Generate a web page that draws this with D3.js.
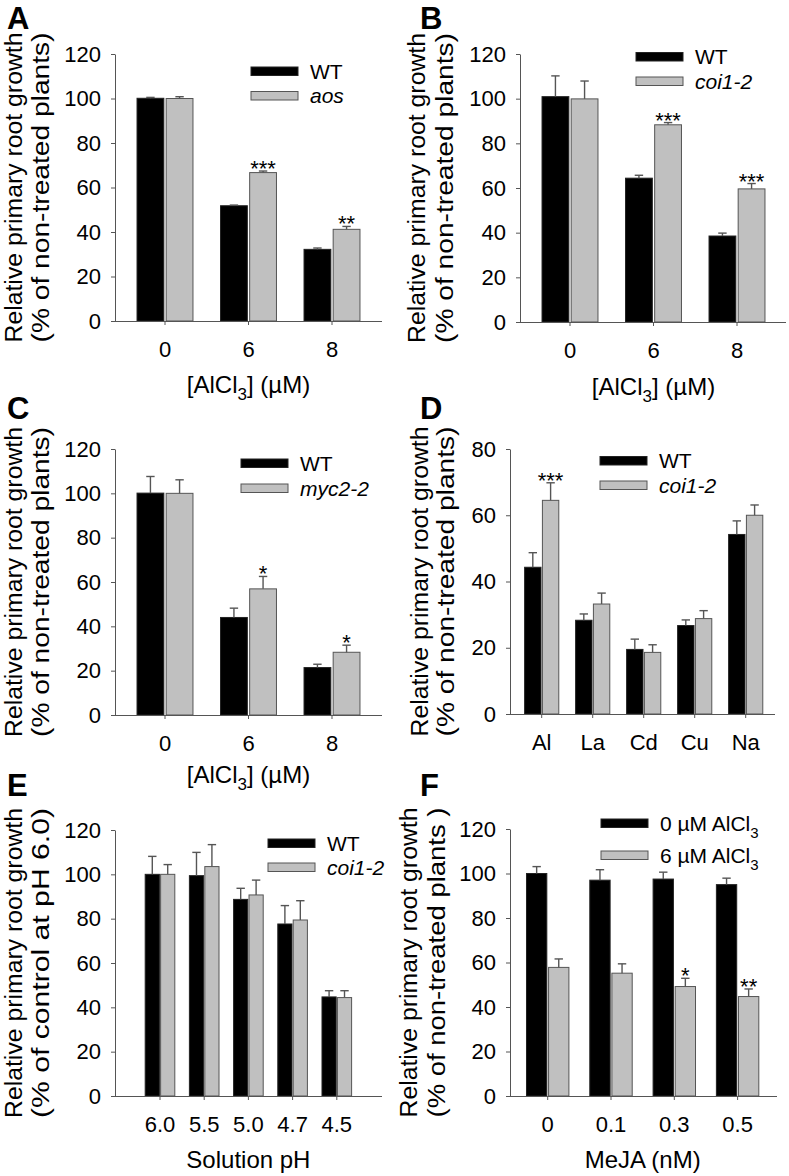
<!DOCTYPE html>
<html>
<head>
<meta charset="utf-8">
<script src="https://cdn.jsdelivr.net/npm/d3@7"></script>
<style>
  body { margin: 0; background: #fff; }
  svg { font-family: "Liberation Sans", Arial, sans-serif; display: block; }
  .axis text { font-family: "Liberation Sans", Arial, sans-serif; font-size: 22px; fill: #000; }
</style>
</head>
<body>
<script>
// ---- data (mean, +error) ----
var doseCats = ['0', '6', '8'];
var metalCats = ['Al', 'La', 'Cd', 'Cu', 'Na'];
var phCats = ['6.0', '5.5', '5.0', '4.7', '4.5'];
var mejaCats = ['0', '0.1', '0.3', '0.5'];
var yTicks120 = [0, 20, 40, 60, 80, 100, 120];
var yTicks80 = [0, 20, 40, 60, 80];

// A
var aWT = [100.1, 51.8, 32.2], aWTerr = [0.4, 0.3, 0.6];
var aAos = [100.0, 66.7, 41.2], aAosErr = [0.8, 0.7, 1.3];
var aStars = ['', '***', '**'];
// B
var bWT = [100.9, 64.4, 38.5], bWTerr = [9.3, 1.3, 1.3];
var bCoi = [99.9, 88.3, 59.6], bCoiErr = [8.0, 1.0, 2.4];
var bStars = ['', '***', '***'];
// C
var cWT = [100.1, 44.0, 21.4], cWTerr = [7.5, 4.2, 1.5];
var cMyc = [100.0, 56.9, 28.3], cMycErr = [6.1, 5.6, 3.2];
var cStars = ['', '*', '*'];
// D
var dWT = [44.3, 28.3, 19.5, 26.7, 54.2], dWTerr = [4.4, 1.9, 3.1, 1.7, 4.1];
var dCoi = [64.5, 33.2, 18.6, 28.8, 60.0], dCoiErr = [5.3, 3.3, 2.3, 2.4, 3.1];
var dStars = ['***', '', '', '', ''];
// E
var eWT = [100.0, 99.4, 88.7, 77.6, 44.7], eWTerr = [8.1, 10.5, 5.0, 8.3, 2.8];
var eCoi = [100.0, 103.5, 90.7, 79.4, 44.4], eCoiErr = [4.4, 9.9, 6.7, 8.7, 3.1];
var eStars = ['', '', '', '', ''];
// F
var f0 = [100.0, 97.0, 97.5, 95.0], f0err = [3.1, 4.7, 3.1, 2.9];
var f6 = [57.8, 55.2, 49.2, 44.7], f6err = [3.8, 4.2, 3.7, 3.4];
var fStars = ['', '', '*', '**'];

var blackFill = '#000';
var grayFill = '#c0c0c0';
var lineColor = '#555';

var svg = d3.select('body').append('svg')
    .attr('width', 789)
    .attr('height', 1176);

// layout per panel
var panels = [
  { letter: 'A', lx: 7, ly: 29, ax: 115, y0: 321, yTop: 54, yMax: 120, ticks: yTicks120,
    cats: doseCats, c0: 165, step: 83.5, xEnd: 382,
    s1: aWT, e1: aWTerr, s2: aAos, e2: aAosErr, stars: aStars,
    leg: { x: 251, y: 67, dy: 24.5, names: ['WT', 'aos'], italic: true },
    ylab: ['Relative primary root growth', '(% of non-treated plants)'], yl: [-93, -66],
    xlab: 'alcl', xly: 393 },
  { letter: 'B', lx: 420, ly: 29, ax: 520, y0: 322, yTop: 54, yMax: 120, ticks: yTicks120,
    cats: doseCats, c0: 570, step: 83.5, xEnd: 786,
    s1: bWT, e1: bWTerr, s2: bCoi, e2: bCoiErr, stars: bStars,
    leg: { x: 636, y: 52.5, dy: 24.5, names: ['WT', 'coi1-2'], italic: true },
    ylab: ['Relative primary root growth', '(% of non-treated plants)'], yl: [-95, -67],
    xlab: 'alcl', xly: 395 },
  { letter: 'C', lx: 7, ly: 419, ax: 115, y0: 715, yTop: 449, yMax: 120, ticks: yTicks120,
    cats: doseCats, c0: 165, step: 83.5, xEnd: 382,
    s1: cWT, e1: cWTerr, s2: cMyc, e2: cMycErr, stars: cStars,
    leg: { x: 241, y: 459, dy: 25, names: ['WT', 'myc2-2'], italic: true },
    ylab: ['Relative primary root growth', '(% of non-treated plants)'], yl: [-93, -66],
    xlab: 'alcl', xly: 783 },
  { letter: 'D', lx: 420, ly: 419, ax: 510, y0: 714, yTop: 449, yMax: 80, ticks: yTicks80,
    cats: metalCats, c0: 541.7, step: 51, xEnd: 775,
    s1: dWT, e1: dWTerr, s2: dCoi, e2: dCoiErr, stars: dStars,
    leg: { x: 600, y: 456.5, dy: 24.5, names: ['WT', 'coi1-2'], italic: true },
    ylab: ['Relative primary root growth', '(% of non-treated plants)'], yl: [-82, -56],
    xlab: null },
  { letter: 'E', lx: 7, ly: 796, ax: 115, y0: 1096, yTop: 830, yMax: 120, ticks: yTicks120,
    cats: phCats, c0: 160, step: 44.2, xEnd: 382,
    s1: eWT, e1: eWTerr, s2: eCoi, e2: eCoiErr, stars: eStars,
    leg: { x: 268, y: 839, dy: 24, names: ['WT', 'coi1-2'], italic: true },
    ylab: ['Relative primary root growth', '(% of control at pH 6.0)'], yl: [-93, -66],
    xlab: 'Solution pH', xly: 1168 },
  { letter: 'F', lx: 420, ly: 796, ax: 510, y0: 1096, yTop: 829, yMax: 120, ticks: yTicks120,
    cats: mejaCats, c0: 547.7, step: 63.3, xEnd: 777,
    s1: f0, e1: f0err, s2: f6, e2: f6err, stars: fStars,
    leg: { x: 601, y: 819, dy: 32, names: ['0 µM AlCl', '6 µM AlCl'], italic: false, sub: '3' },
    ylab: ['Relative primary root growth', '(% of non-treated plants )'], yl: [-93, -65],
    xlab: 'MeJA (nM)', xly: 1168 }
];

panels.forEach(drawPanel);

function drawPanel(p) {
  var g = svg.append('g');
  var n = p.cats.length;

  var yScale = d3.scaleLinear().domain([0, p.yMax]).range([p.y0, p.yTop]);
  var xScale = d3.scaleBand().domain(p.cats)
      .range([p.c0 - p.step / 2, p.c0 - p.step / 2 + n * p.step])
      .paddingInner(0.33).paddingOuter(0.165);
  var inner = d3.scaleBand().domain([0, 1]).range([0, xScale.bandwidth()]).paddingInner(0.08);

  // panel letter
  g.append('text')
   .attr('x', p.lx).attr('y', p.ly)
   .style('font-size', '31px').attr('font-weight', 'bold')
   .text(p.letter);

  var rows = [];
  p.cats.forEach(function(c, i) {
    rows.push({ cat: c, k: 0, v: p.s1[i], e: p.e1[i], star: '' });
    rows.push({ cat: c, k: 1, v: p.s2[i], e: p.e2[i], star: p.stars[i] });
  });

  function cx(d) { return xScale(d.cat) + inner(d.k) + inner.bandwidth() / 2; }

  // bars
  g.selectAll('.bar').data(rows).enter().append('rect')
   .attr('class', 'bar')
   .attr('x', function(d) { return xScale(d.cat) + inner(d.k); })
   .attr('width', inner.bandwidth())
   .attr('y', function(d) { return yScale(d.v); })
   .attr('height', function(d) { return p.y0 - yScale(d.v); })
   .attr('fill', function(d) { return d.k == 0 ? blackFill : grayFill; })
   .attr('stroke', function(d) { return d.k == 0 ? '#222' : lineColor; })
   .attr('stroke-width', 1);

  // error bars (upper only)
  var eb = g.selectAll('.err').data(rows).enter().append('g').attr('class', 'err');
  eb.append('line')
    .attr('x1', cx).attr('x2', cx)
    .attr('y1', function(d) { return yScale(d.v); })
    .attr('y2', function(d) { return yScale(d.v + d.e); })
    .attr('stroke', lineColor).attr('stroke-width', 1.4);
  eb.append('line')
    .attr('x1', function(d) { return cx(d) - 4.2; })
    .attr('x2', function(d) { return cx(d) + 4.2; })
    .attr('y1', function(d) { return yScale(d.v + d.e); })
    .attr('y2', function(d) { return yScale(d.v + d.e); })
    .attr('stroke', lineColor).attr('stroke-width', 1.4);

  // significance stars
  g.selectAll('.star').data(rows.filter(function(d) { return d.star; })).enter().append('text')
   .attr('class', 'star')
   .attr('x', cx)
   .attr('y', function(d) { return yScale(d.v + d.e) + 5; })
   .attr('text-anchor', 'middle')
   .style('font-size', '22px')
   .text(function(d) { return d.star; });

  // y axis
  var yAxis = g.append('g')
     .attr('class', 'axis')
     .attr('transform', 'translate(' + p.ax + ',0)')
     .call(d3.axisLeft(yScale).tickValues(p.ticks).tickSize(4).tickSizeOuter(0).tickPadding(10));
  yAxis.selectAll('line, path').attr('stroke', lineColor);

  // x axis: line drawn from y axis to panel end, ticks at group centers
  var xAxis = g.append('g')
     .attr('class', 'axis')
     .attr('transform', 'translate(0,' + p.y0 + ')')
     .call(d3.axisBottom(xScale).tickSize(4).tickSizeOuter(0).tickPadding(16.5));
  xAxis.select('.domain').remove();
  xAxis.selectAll('line').attr('stroke', lineColor);
  g.append('line')
   .attr('x1', p.ax).attr('x2', p.xEnd)
   .attr('y1', p.y0 + 0.5).attr('y2', p.y0 + 0.5)
   .attr('stroke', lineColor).attr('stroke-width', 1);

  // y label (two lines, stretched to the same length as in the figure)
  var yc = (p.y0 + p.yTop) / 2;
  p.ylab.forEach(function(t, i) {
    g.append('text')
     .attr('transform', 'translate(' + (p.ax + p.yl[i]) + ',' + yc + ')rotate(-90)')
     .attr('text-anchor', 'middle')
     .style('font-size', '23.5px')
     .attr('textLength', 310)
     .attr('lengthAdjust', 'spacingAndGlyphs')
     .text(t);
  });

  // x label
  var midX = (xScale.range()[0] + xScale.range()[1]) / 2;
  if (p.xlab == 'alcl') {
    var xt = g.append('text')
       .attr('x', midX).attr('y', p.xly)
       .attr('text-anchor', 'middle').style('font-size', '24px');
    xt.append('tspan').text('[AlCl');
    xt.append('tspan').style('font-size', '17px').attr('dy', 7).text('3');
    xt.append('tspan').attr('dy', -7).text('] (µM)');
  } else if (p.xlab) {
    g.append('text')
     .attr('x', midX).attr('y', p.xly)
     .attr('text-anchor', 'middle').style('font-size', '24px')
     .text(p.xlab);
  }

  // legend
  var L = p.leg;
  [0, 1].forEach(function(k) {
    g.append('rect')
     .attr('x', L.x).attr('y', L.y + k * L.dy)
     .attr('width', 47).attr('height', 8.5)
     .attr('fill', k == 0 ? blackFill : grayFill)
     .attr('stroke', k == 0 ? '#222' : lineColor);
    var lt = g.append('text')
     .attr('x', L.x + 59).attr('y', L.y + k * L.dy + 4.25)
     .attr('dy', '0.36em')
     .style('font-size', '21px');
    if (L.sub) {
      lt.append('tspan').text(L.names[k]);
      lt.append('tspan').style('font-size', '15px').attr('dy', 7).text(L.sub);
    } else {
      lt.style('font-style', (k == 1 && L.italic) ? 'italic' : 'normal').text(L.names[k]);
    }
  });
}
</script>
</body>
</html>
